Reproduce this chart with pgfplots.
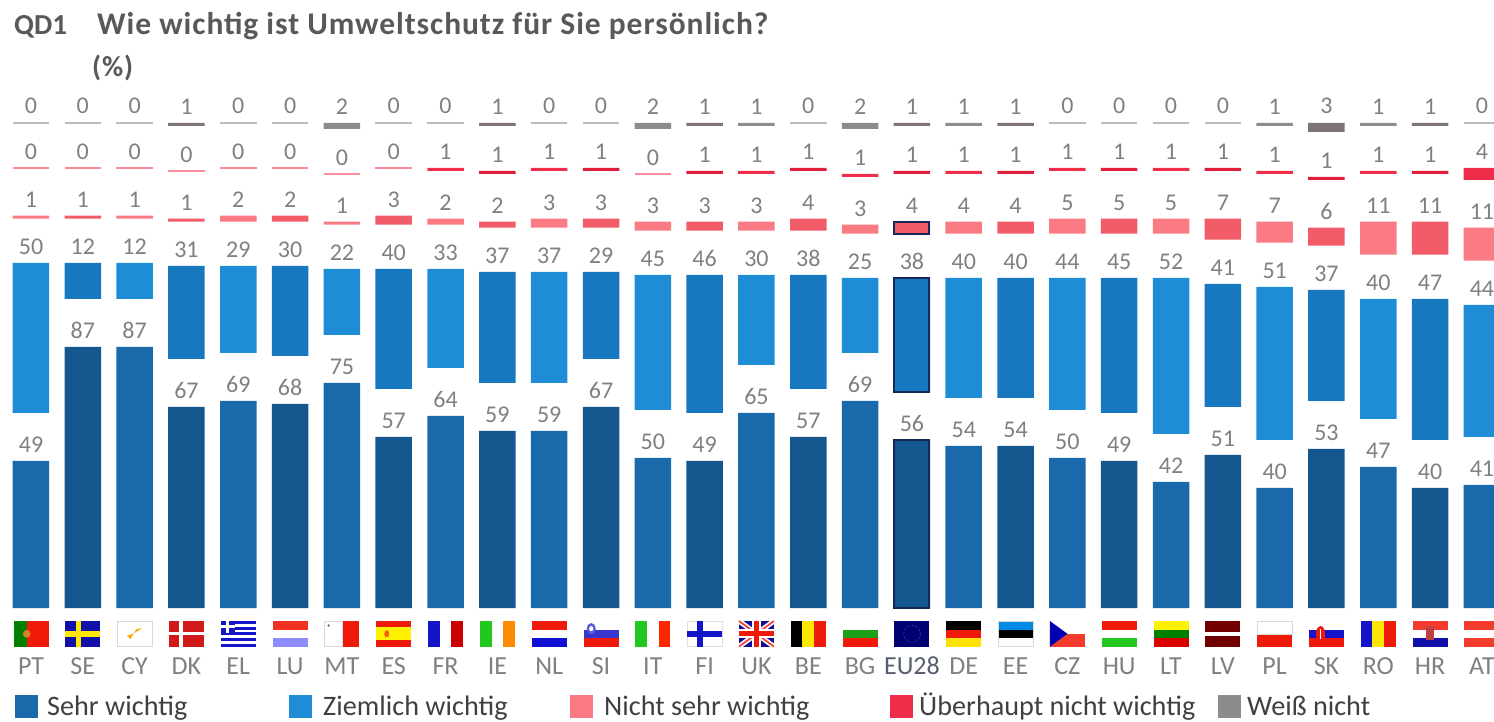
\documentclass[border=0pt]{standalone}
\usepackage{pgfplots}
\usepackage{pgfplotstable}
\usepackage{fontspec}
\setmainfont{Carlito}
\pgfplotsset{compat=1.18}
\definecolor{sA}{HTML}{1A69AB}\definecolor{sB}{HTML}{14578F}
\definecolor{zA}{HTML}{1E8DD5}\definecolor{zB}{HTML}{1878BF}
\definecolor{nA}{HTML}{FB7B85}\definecolor{nB}{HTML}{F25C68}
\definecolor{uA}{HTML}{EE2E48}\definecolor{uB}{HTML}{E0203A}
\definecolor{wA}{HTML}{8C8C8C}\definecolor{wB}{HTML}{7D7378}
\definecolor{zeroU}{HTML}{FB8A9A}\definecolor{zeroW}{HTML}{BDBDBD}
\definecolor{valtxt}{HTML}{808080}\definecolor{navy}{HTML}{16285A}
\definecolor{ttl}{HTML}{595959}\definecolor{leg}{HTML}{404040}
% columns: index, Sehr, spacer, Ziemlich, spacer, Nicht sehr, spacer, Ueberhaupt nicht, spacer, Weiss nicht
\pgfplotstableread{
i s g1 z g2 n g3 u g4 w
0 49 16 50 14.8 1 15.9 0 15 0
2 87 16 12 14.8 1 15.9 0 15 0
4 69 16 29 14.8 2 15.9 0 15 0
6 75 16 22 14.8 1 15.9 0 15 2
8 64 16 33 14.8 2 15.9 1 15 0
10 59 16 37 14.8 3 15.9 1 15 0
12 50 16 45 14.8 3 15.9 0 15 2
14 65 16 30 14.8 3 15.9 1 15 1
16 69 16 25 14.8 3 15.9 1 15 2
18 54 16 40 14.8 4 15.9 1 15 1
20 50 16 44 14.8 5 15.9 1 15 0
22 42 16 52 14.8 5 15.9 1 15 0
24 40 16 51 14.8 7 15.9 1 15 1
26 47 16 40 14.8 11 15.9 1 15 1
28 41 16 44 14.8 11 15.9 4 15 0
}\tabA
\pgfplotstableread{
i s g1 z g2 n g3 u g4 w
1 87 16 12 14.8 1 15.9 0 15 0
3 67 16 31 14.8 1 15.9 0 15 1
5 68 16 30 14.8 2 15.9 0 15 0
7 57 16 40 14.8 3 15.9 0 15 0
9 59 16 37 14.8 2 15.9 1 15 1
11 67 16 29 14.8 3 15.9 1 15 0
13 49 16 46 14.8 3 15.9 1 15 1
15 57 16 38 14.8 4 15.9 1 15 0
17 56 16 38 14.8 4 15.9 1 15 1
19 54 16 40 14.8 4 15.9 1 15 1
21 49 16 45 14.8 5 15.9 1 15 0
23 51 16 41 14.8 7 15.9 1 15 0
25 53 16 37 14.8 6 15.9 1 15 3
27 40 16 47 14.8 11 15.9 1 15 1
}\tabB
\pgfplotstableread{
i s g1 z g2 n g3 u g4 w
17 56 16 38 14.8 4 15.9 1 15 1
}\tabEU
% all values, for the number above each bar
\pgfplotstableread{
i s z n u w
0 49 50 1 0 0
1 87 12 1 0 0
2 87 12 1 0 0
3 67 31 1 0 1
4 69 29 2 0 0
5 68 30 2 0 0
6 75 22 1 0 2
7 57 40 3 0 0
8 64 33 2 1 0
9 59 37 2 1 1
10 59 37 3 1 0
11 67 29 3 1 0
12 50 45 3 0 2
13 49 46 3 1 1
14 65 30 3 1 1
15 57 38 4 1 0
16 69 25 3 1 2
17 56 38 4 1 1
18 54 40 4 1 1
19 54 40 4 1 1
20 50 44 5 1 0
21 49 45 5 1 0
22 42 52 5 1 0
23 51 41 7 1 0
24 40 51 7 1 1
25 53 37 6 1 3
26 47 40 11 1 1
27 40 47 11 1 1
28 41 44 11 4 0
}\tabAll
\pgfplotstableread{
i label y
0 PT -19.3
1 SE -19.3
2 CY -19.3
3 DK -19.3
4 EL -19.3
5 LU -19.3
6 MT -19.3
7 ES -19.3
8 FR -19.3
9 IE -19.3
10 NL -19.3
11 SI -19.3
12 IT -19.3
13 FI -19.3
14 UK -19.3
15 BE -19.3
16 BG -19.3
18 DE -19.3
19 EE -19.3
20 CZ -19.3
21 HU -19.3
22 LT -19.3
23 LV -19.3
24 PL -19.3
25 SK -19.3
26 RO -19.3
27 HR -19.3
28 AT -19.3
}\tabLab
\pgfplotstableread{
i label y
17 EU28 -19.3
}\tabLabEU
% zero-valued entries, drawn as hairlines at the level of their row
\pgfplotstableread{
i y
0 161.7
1 161.7
2 161.7
4 161.7
5 161.7
7 161.7
8 161.7
10 161.7
11 161.7
15 161.7
20 161.7
21 161.7
22 161.7
23 161.7
28 161.7
}\tabZeroW
\pgfplotstableread{
i y
0 146.7
1 146.7
2 146.7
3 145.7
4 146.7
5 146.7
6 144.7
7 146.7
12 144.7
}\tabZeroU
\pgfplotsset{
  base/.style={at={(0,0)},anchor=south west,scale only axis,width=1494pt,height=721pt,
    xmin=-0.5982,xmax=28.233,ymin=-37.667,ymax=202.667,hide axis,clip=false,
    /pgf/number format/assume math mode=true},
  val/.style={draw=none,mark=none,nodes near coords,point meta=explicit,
    every node near coord/.append style={font=\fontsize{24}{25}\selectfont,text=valtxt,anchor=south,inner sep=0pt,yshift=8pt}},
}
\newcommand\stackseries[6]{%
  \addplot[fill=#2,draw=none] table[x=i,y=s]{#1};
  \addplot[fill=none,draw=none] table[x=i,y=g1]{#1};
  \addplot[fill=#3,draw=none] table[x=i,y=z]{#1};
  \addplot[fill=none,draw=none] table[x=i,y=g2]{#1};
  \addplot[fill=#4,draw=none] table[x=i,y=n]{#1};
  \addplot[fill=none,draw=none] table[x=i,y=g3]{#1};
  \addplot[fill=#5,draw=none] table[x=i,y=u]{#1};
  \addplot[fill=none,draw=none] table[x=i,y=g4]{#1};
  \addplot[fill=#6,draw=none] table[x=i,y=w]{#1};
}
\newcommand\flag[2]{\begin{scope}[xshift={(31+51.82*#1-17.5)*1pt},yshift=74.4pt,x=35pt,y=25.6pt]#2\end{scope}}
\newcommand\R[5]{\fill[#1] (#2,#3) rectangle (#4,#5);}
\newcommand\hs[3]{\R{#1}{0}{0.667}{1}{1}\R{#2}{0}{0.333}{1}{0.667}\R{#3}{0}{0}{1}{0.333}}
\newcommand\vs[3]{\R{#1}{0}{0}{0.333}{1}\R{#2}{0.333}{0}{0.667}{1}\R{#3}{0.667}{0}{1}{1}}
\definecolor{fRed}{HTML}{F01A0A}\definecolor{fBlue}{HTML}{1414C8}\definecolor{fGreen}{HTML}{22C81E}
\newfontface\titlefont[LetterSpace=3]{Carlito Bold}
\begin{document}
\begin{tikzpicture}
\useasboundingbox (0,0) rectangle (1494pt,721pt);
\clip (0,0) rectangle (1494pt,721pt);
\begin{axis}[base,ybar stacked,bar width=36.5pt]
\stackseries{\tabA}{sA}{zA}{nA}{uA}{wA}
\end{axis}
\begin{axis}[base,ybar stacked,bar width=36.5pt]
\stackseries{\tabB}{sB}{zB}{nB}{uB}{wB}
\end{axis}
\begin{axis}[base,ybar stacked,bar width=35pt]
\addplot[fill=none,draw=navy,line width=2pt] table[x=i,y=s]{\tabEU};
\addplot[fill=none,draw=none] table[x=i,y=g1]{\tabEU};
\addplot[fill=none,draw=navy,line width=2pt] table[x=i,y=z]{\tabEU};
\addplot[fill=none,draw=none] table[x=i,y=g2]{\tabEU};
\addplot[fill=none,draw=navy,line width=2pt] table[x=i,y=n]{\tabEU};
\end{axis}
\begin{axis}[base]
\addplot[only marks,mark=-,mark size=18.25pt,mark options={draw=zeroW,line width=1.5pt}] table[x=i,y=y]{\tabZeroW};
\addplot[only marks,mark=-,mark size=18.25pt,mark options={draw=zeroU,line width=1.5pt}] table[x=i,y=y]{\tabZeroU};
% numbers above the bars, at the top of each bar
\addplot[val] table[x=i,y=s,meta=s]{\tabAll};
\addplot[val] table[x=i,y expr=116-\thisrow{n}-\thisrow{u}-\thisrow{w},meta=z]{\tabAll};
\addplot[val] table[x=i,y expr=130.8-\thisrow{u}-\thisrow{w},meta=n]{\tabAll};
\addplot[val] table[x=i,y expr=146.7-\thisrow{w},meta=u]{\tabAll};
\addplot[val] table[x=i,y expr=161.9,meta=w]{\tabAll};
\addplot[draw=none,mark=none,nodes near coords,point meta=explicit symbolic,
  every node near coord/.append style={font=\fontsize{26}{27}\selectfont,text=valtxt,anchor=center,inner sep=0pt}]
  table[x=i,y=y,meta=label]{\tabLab};
\addplot[draw=none,mark=none,nodes near coords,point meta=explicit symbolic,
  every node near coord/.append style={font=\fontsize{26}{27}\selectfont,text=gray!60!navy,anchor=center,inner sep=0pt}]
  table[x=i,y=y,meta=label]{\tabLabEU};
\end{axis}
% flags
\flag{0}{\R{fRed}{0}{0}{1}{1}\R{green!50!black}{0}{0}{0.38}{1}\fill[orange!70!gray] (0.38,0.5) circle[x radius=0.11,y radius=0.15];}
\flag{1}{\R{fBlue!85!black}{0}{0}{1}{1}\R{yellow!90!orange}{0.3}{0}{0.46}{1}\R{yellow!90!orange}{0}{0.38}{1}{0.62}}
\flag{2}{\draw[black!15,line width=0.5pt] (0,0) rectangle (1,1);\fill[orange!70!yellow] (0.28,0.42) -- (0.45,0.5) -- (0.72,0.72) -- (0.55,0.68) -- (0.38,0.3) -- cycle;}
\flag{3}{\R{red!80!black!90!white}{0}{0}{1}{1}\R{white}{0.3}{0}{0.4}{1}\R{white}{0}{0.44}{1}{0.56}}
\flag{4}{\foreach \k/\l in {0/0.111,0.222/0.333,0.444/0.556,0.667/0.778,0.889/1}{\R{fBlue}{0}{\k}{1}{\l}}\R{fBlue}{0}{0.55}{0.4}{1}\R{white}{0.16}{0.55}{0.24}{1}\R{white}{0}{0.73}{0.4}{0.83}}
\flag{5}{\hs{fRed!90!white}{white}{blue!45!white}}
\flag{6}{\R{fRed}{0.5}{0}{1}{1}\draw[black!15,line width=0.5pt] (0,0) rectangle (0.5,1);\fill[gray] (0.12,0.82) circle[x radius=0.04,y radius=0.06];}
\flag{7}{\R{fRed}{0}{0}{1}{1}\R{yellow}{0}{0.25}{1}{0.75}\fill[orange!70!red] (0.3,0.5) circle[x radius=0.07,y radius=0.14];}
\flag{8}{\vs{fBlue}{white}{red!80!black}}
\flag{9}{\vs{fGreen}{white}{orange!90!yellow}}
\flag{10}{\hs{fRed}{white}{fBlue!80!blue}}
\flag{11}{\hs{white}{fBlue!85!white}{fRed}\fill[fBlue!70!white] (0.22,0.7) circle[x radius=0.13,y radius=0.22];\fill[white] (0.22,0.7) circle[x radius=0.06,y radius=0.1];}
\flag{12}{\vs{fGreen}{white}{red!70!orange}}
\flag{13}{\draw[black!12,line width=0.5pt] (0,0) rectangle (1,1);\R{fBlue}{0.28}{0}{0.44}{1}\R{fBlue}{0}{0.38}{1}{0.62}}
\flag{14}{\R{fBlue!75!black}{0}{0}{1}{1}\draw[white,line width=5pt] (0,0)--(1,1) (0,1)--(1,0);\draw[fRed!80!white,line width=1.8pt] (0,0)--(1,1) (0,1)--(1,0);\R{white}{0.38}{0}{0.62}{1}\R{white}{0}{0.33}{1}{0.67}\R{fRed}{0.44}{0}{0.56}{1}\R{fRed}{0}{0.41}{1}{0.59}}
\flag{15}{\vs{black}{yellow!90!orange}{fRed}}
\flag{16}{\hs{white}{fGreen!80!black}{fRed}}
\flag{17}{\R{blue!45!black}{0}{0}{1}{1}\draw[blue!50!gray,line width=1pt,dotted] (0.5,0.5) circle[x radius=0.24,y radius=0.33];}
\flag{18}{\hs{black}{fRed}{yellow!85!orange}}
\flag{19}{\hs{blue!40!cyan!90!black}{black}{white}\draw[black!15,line width=0.5pt] (0,0) rectangle (1,1);}
\flag{20}{\R{fRed!80!pink}{0}{0}{1}{0.5}\R{white}{0}{0.5}{1}{1}\fill[blue!70!black] (0,0)--(0.5,0.5)--(0,1)--cycle;}
\flag{21}{\hs{fRed}{white}{fGreen}}
\flag{22}{\hs{yellow}{green!50!black}{red!85!black}}
\flag{23}{\R{red!45!black}{0}{0}{1}{1}\R{white}{0}{0.42}{1}{0.58}}
\flag{24}{\R{fRed}{0}{0}{1}{0.5}\draw[black!15,line width=0.5pt] (0,0.5) rectangle (1,1);}
\flag{25}{\hs{white}{fBlue}{fRed}\fill[fRed] (0.33,0.5) circle[x radius=0.13,y radius=0.3];\R{white}{0.31}{0.3}{0.35}{0.7}}
\flag{26}{\vs{fBlue}{yellow!90!orange}{fRed}}
\flag{27}{\hs{fRed!80!pink}{white}{fBlue!85!black}\R{red!50!gray}{0.38}{0.25}{0.62}{0.8}}
\flag{28}{\hs{fRed!80!pink}{white}{fRed!80!pink}}
% title
\node[anchor=base west,inner sep=0pt,font=\bfseries\fontsize{29}{30}\selectfont,text=ttl] at (14pt,686.5pt) {QD1};
\node[anchor=base west,inner sep=0pt,font=\titlefont\fontsize{31.5}{32}\selectfont,text=ttl] at (97pt,686.5pt) {Wie wichtig ist Umweltschutz für Sie persönlich?};
\node[anchor=base west,inner sep=0pt,font=\titlefont\fontsize{29}{30}\selectfont,text=ttl] at (92pt,644pt) {(\%)};
% legend
\foreach \xa/\c/\xb/\t in {15/sA/47/Sehr wichtig,289/zA/323/Ziemlich wichtig,570/nA/604/Nicht sehr wichtig,890/uA/919/Überhaupt nicht wichtig,1218/wA/1247/Weiß nicht}{
  \fill[\c] (\xa pt,3pt) rectangle ++(23pt,23pt);
  \node[anchor=base west,inner sep=0pt,font=\fontsize{28.2}{29}\selectfont,text=leg] at (\xb pt,6pt) {\t};
}
\end{tikzpicture}
\end{document}
